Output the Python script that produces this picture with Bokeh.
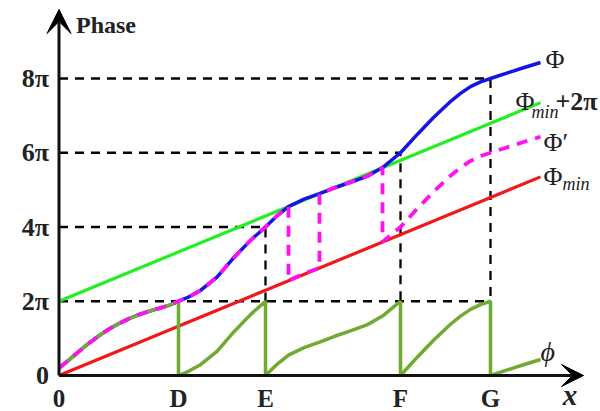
from bokeh.plotting import figure
from bokeh.models import Range1d, Arrow, VeeHead
from bokeh.core.properties import value
from bokeh.embed import file_html
from bokeh.resources import INLINE

# ---------------- data (x in arbitrary units, phase in units of pi) ----------------
x_marks = [0, 119.5, 206.5, 341.5, 431.5]
x_mark_labels = ["0", "D", "E", "F", "G"]
y_ticks = [0, 2, 4, 6, 8]
y_tick_labels = ["0", "2π", "4π", "6π", "8π"]

# unwrapped phase Phi
phi_x = [0, 10, 20, 30, 40, 50, 60, 70, 80, 90, 100, 110, 119.5, 130, 141.5, 158, 175,
         191.5, 206.5, 218, 229.5, 245, 260.5, 275, 290, 308.5, 323.5, 341.5, 358.5,
         374.5, 391.5, 401.5, 411.5, 421.5, 431.5, 448.5, 464.5, 481.5]
phi_y = [0.2, 0.42, 0.65, 0.87, 1.07, 1.25, 1.4, 1.53, 1.64, 1.73, 1.81, 1.89, 2.0, 2.12,
         2.29, 2.65, 3.18, 3.64, 4.0, 4.3, 4.55, 4.75, 4.9, 5.05, 5.19, 5.37, 5.6, 6.0,
         6.5, 6.95, 7.38, 7.6, 7.78, 7.91, 8.0, 8.15, 8.29, 8.43]

# minimum phase line Phi_min
phimin_x = [0, 481.5]
phimin_y = [0, 5.35]

# points where Phi' jumps and the 2pi offsets between them
phip_breaks = [229.5, 260.5, 323.5]
phip_offsets = [0, -2, 0, -2]
# wrapping points of phi (D, E, F, G) and offsets
wrap_breaks = [119.5, 206.5, 341.5, 431.5]
wrap_offsets = [0, -2, -4, -6, -8]


def piecewise(xs, ys, breaks, offsets):
    ox, oy = [], []
    k = 0
    for x, y in zip(xs, ys):
        if k < len(breaks) and x == breaks[k]:
            ox += [x, x]
            oy += [y + offsets[k], y + offsets[k + 1]]
            k += 1
        else:
            ox.append(x)
            oy.append(y + offsets[k])
    return ox, oy


phip_x, phip_y = piecewise(phi_x, phi_y, phip_breaks, phip_offsets)
wr_x, wr_y = piecewise(phi_x, phi_y, wrap_breaks, wrap_offsets)

# ---------------- figure ----------------
PX = 37.125  # pixels per pi
p = figure(width=600, height=411, output_backend="svg", toolbar_location=None,
           x_range=Range1d(-58.5, 541.5), y_range=Range1d(-36 / PX, 375 / PX),
           x_axis_type=None, y_axis_type=None, min_border=0)
p.grid.visible = False
p.outline_line_color = None
p.background_fill_color = "white"
p.border_fill_color = "white"

# dashed guide lines
gx, gy = [], []
for xb in wrap_breaks[1:]:
    lvl = phi_y[phi_x.index(xb)]
    gx.append([0, xb, xb])
    gy.append([lvl, lvl, 2])
gx.append([0, wrap_breaks[-1]])
gy.append([2, 2])
p.multi_line(gx, gy, line_color="black", line_width=2.3, line_dash="9 7")

# lines
p.line(phimin_x, [v + 2 for v in phimin_y], line_color="#22EE22", line_width=3.2)
p.line(phimin_x, phimin_y, line_color="#F01818", line_width=3.2)
p.line(phi_x, phi_y, line_color="#1414E6", line_width=3.5)
p.line(wr_x, wr_y, line_color="#6FAB30", line_width=3.5)
p.line(phip_x, phip_y, line_color="#FF10F0", line_width=3.8, line_dash="11 8")

# axes with arrowheads
p.add_layout(Arrow(end=VeeHead(size=22, fill_color="black", line_color="black"),
                   x_start=0, y_start=0, x_end=524.5, y_end=0,
                   line_width=3, line_color="#111111"))
p.add_layout(Arrow(end=VeeHead(size=24, fill_color="black", line_color="black"),
                   x_start=0, y_start=0, x_end=0, y_end=366 / PX,
                   line_width=3, line_color="#111111"))

serif = value("Liberation Serif")
# tick labels
p.text(x=[0] * len(y_ticks), y=y_ticks, text=y_tick_labels, x_offset=-10,
       text_align="right", text_baseline="middle", text_font=serif,
       text_font_size="26px", text_font_style="bold", text_color="#222222")
p.text(x=x_marks, y=[0] * len(x_marks), text=x_mark_labels, y_offset=23,
       text_align="center", text_baseline="middle", text_font=serif,
       text_font_size="25px", text_font_style="bold", text_color="#222222")
p.text(x=[511], y=[0], text=["x"], y_offset=19, text_align="center",
       text_baseline="middle", text_font=serif, text_font_size="29px",
       text_font_style="bold italic", text_color="#222222")
p.text(x=[0], y=[366 / PX], text=["Phase"], x_offset=17, y_offset=15,
       text_align="left", text_baseline="middle", text_font=serif,
       text_font_size="24px", text_font_style="bold", text_color="#222222")

# curve labels
ex = phi_x[-1]
p.text(x=[ex], y=[phi_y[-1]], text=["Φ"], x_offset=5, y_offset=-3,
       text_baseline="middle", text_font=serif, text_font_size="26px", text_color="#222222")
p.text(x=[ex], y=[phip_y[-1]], text=["Φ′"], x_offset=3, y_offset=6,
       text_baseline="middle", text_font=serif, text_font_size="26px", text_color="#222222")
p.text(x=[ex], y=[phimin_y[-1]], text=["Φ"], x_offset=3, y_offset=0,
       text_baseline="middle", text_font=serif, text_font_size="26px", text_color="#222222")
p.text(x=[ex], y=[phimin_y[-1]], text=["min"], x_offset=22, y_offset=7,
       text_baseline="middle", text_font=serif, text_font_size="18px",
       text_font_style="italic", text_color="#222222")
p.text(x=[ex], y=[phimin_y[-1] + 2], text=["Φ"], x_offset=-25, y_offset=-1,
       text_baseline="middle", text_font=serif, text_font_size="26px", text_color="#222222")
p.text(x=[ex], y=[phimin_y[-1] + 2], text=["min"], x_offset=-9, y_offset=9,
       text_baseline="middle", text_font=serif, text_font_size="18px",
       text_font_style="italic", text_color="#222222")
p.text(x=[ex], y=[phimin_y[-1] + 2], text=["+2π"], x_offset=15, y_offset=-1,
       text_baseline="middle", text_font=serif, text_font_size="26px",
       text_font_style="bold", text_color="#222222")
p.text(x=[ex], y=[wr_y[-1]], text=["ϕ"], x_offset=0, y_offset=-8,
       text_baseline="middle", text_font=serif, text_font_size="28px",
       text_font_style="italic", text_color="#222222")

open("out.html", "w").write(file_html(p, INLINE))
